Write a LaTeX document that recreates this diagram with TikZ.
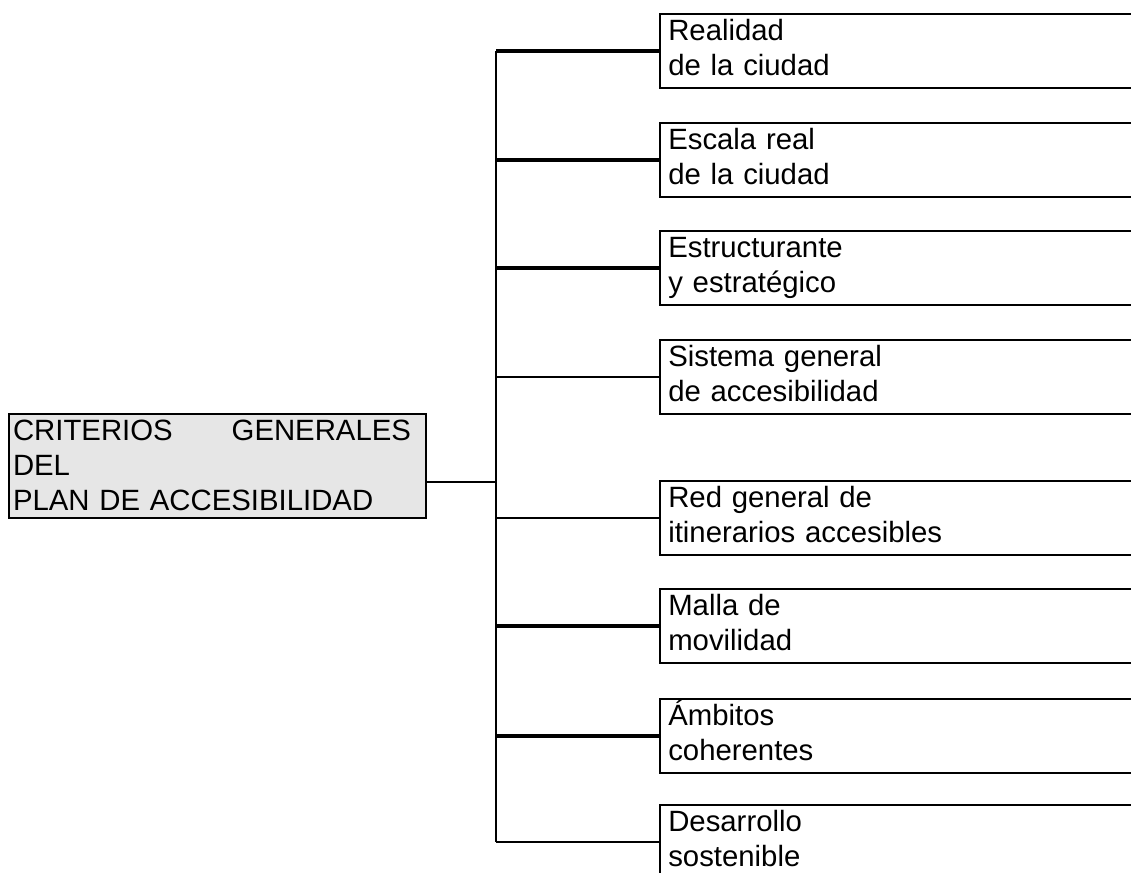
\documentclass[tikz,border=0pt]{standalone}
\usepackage{fontspec}
\setmainfont{Liberation Sans}
\usetikzlibrary{calc}
\definecolor{gris}{RGB}{230,230,230}

\begin{document}
\begin{tikzpicture}[x=0.75pt,y=-0.75pt,
	font=\fontsize{22pt}{26.25pt}\selectfont,
	rama/.style={anchor=west, inner xsep=6pt, inner ysep=0pt, text width=341.25pt, minimum height=54.75pt, align=left},
	fina/.style={line width=1.5pt},
	gruesa/.style={line width=3pt}]
			\useasboundingbox (0,0) rectangle (1131,873);
			\def\abierta#1{\draw[fina] (#1.north east) -- (#1.north west) -- (#1.south west) -- (#1.south east);}
			\node[draw, fina, fill=gris, anchor=north west, inner xsep=3pt, inner ysep=0pt, text width=306.75pt, minimum height=78pt, align=left] (criterios) at (8,413)
				{\rule{0pt}{19.5pt}\makebox[298.5pt][l]{CRITERIOS\hfill GENERALES}\\DEL\\PLAN DE ACCESIBILIDAD\rule[-6pt]{0pt}{6pt}};
			\node[rama] (realidad) at (660,51) {\strut Realidad\\de la ciudad\strut};
			\node[rama] (escala) at (660,160) {\strut Escala real\\de la ciudad\strut};
			\node[rama] (estruct) at (660,268) {\strut Estructurante\\y estratégico\strut};
			\node[rama] (sistema) at (660,377) {\strut Sistema general\\de accesibilidad\strut};
			\node[rama] (red) at (660,518) {\strut Red general de\\itinerarios accesibles\strut};
			\node[rama] (malla) at (660,626) {\strut Malla de\\movilidad\strut};
			\node[rama] (ambitos) at (660,736) {\strut Ámbitos\\coherentes\strut};
			\node[rama] (desarrollo) at (660,842) {\strut Desarrollo\\sostenible\strut};
			\abierta{realidad}
			\abierta{escala}
			\abierta{estruct}
			\abierta{sistema}
			\abierta{red}
			\abierta{malla}
			\abierta{ambitos}
			\abierta{desarrollo}
			\coordinate (tronco) at (496,0);
			\coordinate (cruce) at (496,482);
			\draw[fina] (tronco |- realidad.west) -- (tronco |- desarrollo.west);
			\draw[fina] (criterios.east |- cruce) -- (cruce);
			\draw[gruesa] (tronco |- realidad.west) -- (realidad.west);
			\draw[gruesa] (tronco |- escala.west) -- (escala.west);
			\draw[gruesa] (tronco |- estruct.west) -- (estruct.west);
			\draw[fina] (tronco |- sistema.west) -- (sistema.west);
			\draw[fina] (tronco |- red.west) -- (red.west);
			\draw[gruesa] (tronco |- malla.west) -- (malla.west);
			\draw[gruesa] (tronco |- ambitos.west) -- (ambitos.west);
			\draw[fina] (tronco |- desarrollo.west) -- (desarrollo.west);
		\end{tikzpicture}
\end{document}
